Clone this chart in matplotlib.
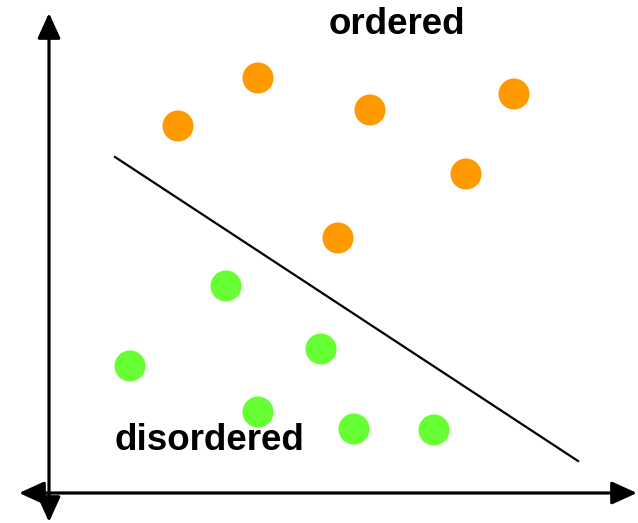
import matplotlib
matplotlib.use("Agg")
import matplotlib.pyplot as plt

# pixel-like coordinates (y grows downward)
orange_x = [178, 258, 370, 514, 466, 338]
orange_y = [126, 78, 110, 94, 174, 238]
green_x = [226, 130, 321, 258, 354, 434]
green_y = [286, 366, 349, 412, 429, 430]
line_x = [115, 578]
line_y = [157, 461]

fig = plt.figure(figsize=(6.38, 5.23), dpi=100)
ax = fig.add_axes([0, 0, 1, 1])
ax.set_xlim(0, 638)
ax.set_ylim(523, 0)
ax.axis("off")

arrow = dict(arrowstyle="<|-|>,head_length=1.1,head_width=0.5", color="black",
             lw=2.3, shrinkA=0, shrinkB=0, mutation_scale=14)
ax.annotate("", xy=(49, 13), xytext=(49, 522), arrowprops=arrow)
ax.annotate("", xy=(637, 493), xytext=(19, 493), arrowprops=arrow)

ax.plot(line_x, line_y, color="black", lw=1.6)

ax.scatter(orange_x, orange_y, s=500, color="#FF9900", edgecolors="none", zorder=3)
ax.scatter(green_x, green_y, s=500, color="#66FF33", edgecolors="none", zorder=3)

ax.text(397, 25, "ordered", fontsize=26.5, fontweight="bold", ha="center", va="center",
        family="Liberation Sans")
ax.text(209, 440, "disordered", fontsize=26.5, fontweight="bold", ha="center", va="center",
        family="Liberation Sans")

fig.savefig("out.png", dpi=100)
